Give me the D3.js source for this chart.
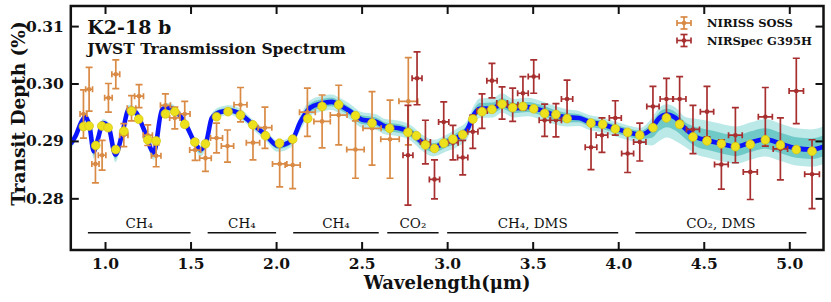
<!DOCTYPE html>
<html>
<head>
<meta charset="utf-8">
<script src="https://cdn.jsdelivr.net/npm/d3@7"></script>
<style>
  body { margin: 0; background: #fff; }
  svg text { font-family: "DejaVu Serif", serif; fill: #111; }
</style>
</head>
<body>
<div id="chart"></div>
<script>
// NIRISS SOSS points (wavelength um, depth %, y err, x half-width)
const nirissW = [0.874, 0.907, 0.944, 0.983, 1.020, 1.063, 1.110, 1.155, 1.199, 1.250, 1.299, 1.353, 1.408, 1.466, 1.527, 1.587, 1.652, 1.716, 1.792, 1.865, 1.935, 2.021, 2.097, 2.183, 2.269, 2.366, 2.464, 2.561, 2.666, 2.773];
const nirissD = [0.2947, 0.2990, 0.2860, 0.2875, 0.2975, 0.3016, 0.2910, 0.2957, 0.2978, 0.2910, 0.2874, 0.2962, 0.2940, 0.2947, 0.2884, 0.2870, 0.2905, 0.2891, 0.2963, 0.2897, 0.2923, 0.2860, 0.2858, 0.2950, 0.2934, 0.2945, 0.2885, 0.2922, 0.2903, 0.2969];
const nirissE = [0.0042, 0.0038, 0.0033, 0.0026, 0.0025, 0.0025, 0.0020, 0.0022, 0.0020, 0.0018, 0.0019, 0.0020, 0.0019, 0.0022, 0.0018, 0.0023, 0.0026, 0.0028, 0.0030, 0.0030, 0.0036, 0.0040, 0.0041, 0.0042, 0.0046, 0.0052, 0.0050, 0.0064, 0.0068, 0.0076];
const nirissXE = [0.020, 0.020, 0.021, 0.022, 0.022, 0.023, 0.024, 0.025, 0.026, 0.027, 0.028, 0.029, 0.030, 0.031, 0.032, 0.034, 0.035, 0.036, 0.038, 0.039, 0.040, 0.042, 0.044, 0.046, 0.048, 0.049, 0.051, 0.053, 0.054, 0.055];

// NIRSpec G395H points
const nirspecW = [2.771, 2.824, 2.873, 2.926, 2.980, 3.034, 3.091, 3.150, 3.204, 3.262, 3.321, 3.383, 3.443, 3.506, 3.570, 3.636, 3.701, 3.841, 3.905, 3.983, 4.055, 4.126, 4.203, 4.282, 4.359, 4.437, 4.519, 4.603, 4.685, 4.772, 4.860, 4.948, 5.041, 5.133];
const nirspecD = [0.2875, 0.3009, 0.2898, 0.2833, 0.2933, 0.2897, 0.2871, 0.2916, 0.2952, 0.3005, 0.2966, 0.2963, 0.2983, 0.3012, 0.2936, 0.2936, 0.2973, 0.2889, 0.2910, 0.2940, 0.2878, 0.2898, 0.2960, 0.2973, 0.2973, 0.2920, 0.2951, 0.2859, 0.2910, 0.2846, 0.2942, 0.2886, 0.2987, 0.2842];
const nirspecE = [0.0087, 0.0046, 0.0038, 0.0034, 0.0035, 0.0030, 0.0030, 0.0029, 0.0030, 0.0030, 0.0028, 0.0029, 0.0029, 0.0029, 0.0028, 0.0029, 0.0033, 0.0039, 0.0030, 0.0030, 0.0033, 0.0033, 0.0035, 0.0036, 0.0039, 0.0042, 0.0044, 0.0043, 0.0048, 0.0048, 0.0051, 0.0054, 0.0057, 0.0060];
const nirspecXE = [0.029, 0.029, 0.029, 0.030, 0.030, 0.030, 0.030, 0.030, 0.030, 0.030, 0.031, 0.031, 0.031, 0.032, 0.032, 0.032, 0.033, 0.034, 0.034, 0.035, 0.035, 0.036, 0.036, 0.037, 0.037, 0.038, 0.039, 0.040, 0.040, 0.041, 0.041, 0.042, 0.042, 0.043];

// high resolution model (blue) and its spread (teal)
const modelW = [0.80, 0.83, 0.86, 0.886, 0.91, 0.934, 0.96, 0.987, 1.02, 1.061, 1.10, 1.139, 1.18, 1.23, 1.285, 1.334, 1.37, 1.41, 1.47, 1.529, 1.558, 1.595, 1.624, 1.67, 1.73, 1.79, 1.86, 1.94, 2.01, 2.09, 2.142, 2.20, 2.26, 2.327, 2.366, 2.425, 2.503, 2.58, 2.639, 2.72, 2.79, 2.853, 2.92, 2.99, 3.06, 3.116, 3.155, 3.19, 3.27, 3.32, 3.39, 3.47, 3.545, 3.62, 3.70, 3.77, 3.83, 3.905, 3.98, 4.06, 4.13, 4.197, 4.24, 4.285, 4.335, 4.39, 4.46, 4.52, 4.60, 4.69, 4.77, 4.86, 4.95, 5.04, 5.13, 5.20];
const modelD = [0.2895, 0.2910, 0.2932, 0.2942, 0.2925, 0.2882, 0.2905, 0.2931, 0.2925, 0.2876, 0.2912, 0.2955, 0.2950, 0.2918, 0.2880, 0.2955, 0.2958, 0.2953, 0.2930, 0.2895, 0.2885, 0.2902, 0.2940, 0.2950, 0.2953, 0.2947, 0.2930, 0.2910, 0.2892, 0.2900, 0.2933, 0.2958, 0.2965, 0.2968, 0.2963, 0.2953, 0.2937, 0.2934, 0.2925, 0.2922, 0.2914, 0.2898, 0.2889, 0.2897, 0.2906, 0.2919, 0.2945, 0.2956, 0.2957, 0.2965, 0.2957, 0.2959, 0.2954, 0.2946, 0.2941, 0.2940, 0.2933, 0.2929, 0.2922, 0.2915, 0.2911, 0.2922, 0.2940, 0.2946, 0.2940, 0.2922, 0.2906, 0.2901, 0.2895, 0.2890, 0.2897, 0.2903, 0.2895, 0.2887, 0.2885, 0.2890];
const spreadUp = [0.0007, 0.0007, 0.0008, 0.0008, 0.0007, 0.0007, 0.0007, 0.0007, 0.0007, 0.0007, 0.0007, 0.0008, 0.0008, 0.0007, 0.0007, 0.0008, 0.0008, 0.0008, 0.0007, 0.0007, 0.0007, 0.0008, 0.0008, 0.0009, 0.0009, 0.0009, 0.0008, 0.0008, 0.0008, 0.0008, 0.0012, 0.0013, 0.0013, 0.0013, 0.0013, 0.0013, 0.0013, 0.0013, 0.0013, 0.0013, 0.0013, 0.0013, 0.0013, 0.0013, 0.0016, 0.0016, 0.0016, 0.0018, 0.0018, 0.0018, 0.0016, 0.0016, 0.0016, 0.0016, 0.0014, 0.0012, 0.0012, 0.0012, 0.0012, 0.0012, 0.0012, 0.0018, 0.0018, 0.0018, 0.0018, 0.0020, 0.0032, 0.0034, 0.0035, 0.0035, 0.0035, 0.0035, 0.0035, 0.0035, 0.0035, 0.0035];
const spreadDown = [0.0010, 0.0009, 0.0008, 0.0008, 0.0009, 0.0013, 0.0009, 0.0008, 0.0009, 0.0013, 0.0009, 0.0008, 0.0008, 0.0009, 0.0013, 0.0008, 0.0008, 0.0008, 0.0009, 0.0010, 0.0012, 0.0009, 0.0008, 0.0008, 0.0008, 0.0009, 0.0009, 0.0010, 0.0011, 0.0010, 0.0014, 0.0014, 0.0014, 0.0014, 0.0014, 0.0014, 0.0014, 0.0014, 0.0014, 0.0014, 0.0014, 0.0015, 0.0016, 0.0016, 0.0016, 0.0016, 0.0016, 0.0016, 0.0016, 0.0016, 0.0016, 0.0016, 0.0016, 0.0016, 0.0016, 0.0014, 0.0014, 0.0014, 0.0014, 0.0014, 0.0014, 0.0030, 0.0040, 0.0040, 0.0040, 0.0032, 0.0030, 0.0030, 0.0030, 0.0030, 0.0030, 0.0030, 0.0030, 0.0030, 0.0030, 0.0030];

// binned model (yellow)
const binW = [0.874, 0.907, 0.946, 0.981, 1.018, 1.063, 1.110, 1.155, 1.197, 1.250, 1.299, 1.353, 1.408, 1.466, 1.525, 1.587, 1.652, 1.719, 1.792, 1.864, 1.938, 2.020, 2.097, 2.185, 2.269, 2.366, 2.464, 2.561, 2.664, 2.771, 2.820, 2.873, 2.926, 2.980, 3.034, 3.091, 3.150, 3.204, 3.262, 3.321, 3.383, 3.443, 3.506, 3.570, 3.636, 3.701, 3.841, 3.909, 3.983, 4.055, 4.126, 4.203, 4.282, 4.359, 4.437, 4.519, 4.603, 4.685, 4.772, 4.860, 4.948, 5.041, 5.133];
const binD = [0.2925, 0.2926, 0.2892, 0.2926, 0.2923, 0.2885, 0.2917, 0.2952, 0.2938, 0.2902, 0.2900, 0.2947, 0.2951, 0.2929, 0.2898, 0.2895, 0.2942, 0.2951, 0.2945, 0.2928, 0.2909, 0.2896, 0.2903, 0.2939, 0.2960, 0.2963, 0.2944, 0.2931, 0.2922, 0.2915, 0.2909, 0.2893, 0.2887, 0.2896, 0.2903, 0.2911, 0.2938, 0.2951, 0.2955, 0.2964, 0.2958, 0.2960, 0.2956, 0.2948, 0.2946, 0.2939, 0.2931, 0.2929, 0.2921, 0.2915, 0.2910, 0.2923, 0.2940, 0.2929, 0.2907, 0.2900, 0.2895, 0.2890, 0.2894, 0.2902, 0.2893, 0.2885, 0.2882];

// molecular feature annotations
const bandStart = [0.9, 1.6, 2.1, 2.65, 3.0, 4.1];
const bandEnd = [1.5, 2.0, 2.6, 2.95, 4.0, 5.1];
const bandLabel = ["CH₄", "CH₄", "CH₄", "CO₂", "CH₄, DMS", "CO₂, DMS"];

const xTicks = [1.0, 1.5, 2.0, 2.5, 3.0, 3.5, 4.0, 4.5, 5.0];
const yTicks = [0.28, 0.29, 0.30, 0.31];

const margin = { top: 6, right: 7.5, bottom: 52, left: 70.8 };
const W = 831, H = 302;
const width = W - margin.left - margin.right;
const height = H - margin.top - margin.bottom;

const colNiriss = "#d98a45";
const colNirspec = "#a82f2f";

const svg = d3.select("#chart").append("svg")
  .attr("width", W).attr("height", H);
const g = svg.append("g")
  .attr("transform", `translate(${margin.left},${margin.top})`);

const x = d3.scaleLinear().domain([0.8, 5.2]).range([0, width]);
const y = d3.scaleLinear().domain([0.271, 0.3135]).range([height, 0]);

g.append("clipPath").attr("id", "clip")
  .append("rect").attr("width", width).attr("height", height);
const plot = g.append("g").attr("clip-path", "url(#clip)");

// model spread
const model = modelW.map((w, i) => ({ w, d: modelD[i], up: spreadUp[i], dn: spreadDown[i] }));
plot.append("path")
  .datum(model)
  .attr("d", d3.area()
    .x((d) => x(d.w))
    .y0((d) => y(d.d - d.dn))
    .y1((d) => y(d.d + d.up))
    .curve(d3.curveMonotoneX))
  .attr("fill", "#66cfcb")
  .attr("opacity", 0.45);
plot.append("path")
  .datum(model)
  .attr("d", d3.area()
    .x((d) => x(d.w))
    .y0((d) => y(d.d - d.dn * 0.55))
    .y1((d) => y(d.d + d.up * 0.55))
    .curve(d3.curveMonotoneX))
  .attr("fill", "#22aaa6")
  .attr("opacity", 0.5);

plot.append("path")
  .datum(model)
  .attr("d", d3.line().x((d) => x(d.w)).y((d) => y(d.d)).curve(d3.curveMonotoneX))
  .attr("fill", "none")
  .attr("stroke", "#0a14ff")
  .attr("stroke-width", 4.6)
  .attr("stroke-linejoin", "round");

// error bars
function errorBars(ws, ds, es, xes, color, cls) {
  const data = ws.map((w, i) => ({ w, d: ds[i], e: es[i], xe: xes[i] }));
  const grp = plot.selectAll("g." + cls).data(data).join("g").attr("class", cls);
  grp.append("line")
    .attr("x1", (d) => x(d.w)).attr("x2", (d) => x(d.w))
    .attr("y1", (d) => y(d.d - d.e)).attr("y2", (d) => y(d.d + d.e));
  grp.append("line")
    .attr("x1", (d) => x(d.w - d.xe)).attr("x2", (d) => x(d.w + d.xe))
    .attr("y1", (d) => y(d.d)).attr("y2", (d) => y(d.d));
  [(d) => d.d - d.e, (d) => d.d + d.e].forEach((f) => {
    grp.append("line")
      .attr("x1", (d) => x(d.w) - 3.5).attr("x2", (d) => x(d.w) + 3.5)
      .attr("y1", (d) => y(f(d))).attr("y2", (d) => y(f(d)));
  });
  [(d) => d.w - d.xe, (d) => d.w + d.xe].forEach((f) => {
    grp.append("line")
      .attr("x1", (d) => x(f(d))).attr("x2", (d) => x(f(d)))
      .attr("y1", (d) => y(d.d) - 3).attr("y2", (d) => y(d.d) + 3);
  });
  grp.selectAll("line").attr("stroke", color).attr("stroke-width", 1.7);
  grp.append("circle")
    .attr("cx", (d) => x(d.w)).attr("cy", (d) => y(d.d))
    .attr("r", 2.3).attr("fill", color);
}
errorBars(nirissW, nirissD, nirissE, nirissXE, colNiriss, "niriss");
errorBars(nirspecW, nirspecD, nirspecE, nirspecXE, colNirspec, "nirspec");

// binned model
plot.selectAll("circle.bin")
  .data(binW.map((w, i) => ({ w, d: binD[i] })))
  .join("circle")
  .attr("class", "bin")
  .attr("cx", (d) => x(d.w))
  .attr("cy", (d) => y(d.d))
  .attr("r", 4.4)
  .attr("fill", "#ece11c")
  .attr("stroke", "#d2c414")
  .attr("stroke-width", 0.7);

// feature bands
const bands = bandStart.map((s, i) => ({ s, e: bandEnd[i], label: bandLabel[i] }));
g.selectAll("line.band").data(bands).join("line")
  .attr("class", "band")
  .attr("x1", (d) => x(d.s)).attr("x2", (d) => x(d.e))
  .attr("y1", 226.7).attr("y2", 226.7)
  .attr("stroke", "#111").attr("stroke-width", 1.5);
g.selectAll("text.band").data(bands).join("text")
  .attr("class", "band")
  .attr("x", (d) => x((d.s + d.e) / 2))
  .attr("y", 222.3)
  .attr("text-anchor", "middle")
  .style("font-size", "13.5px")
  .text((d) => d.label);

// axes with inward ticks on all sides
const axisStyle = (sel) => {
  sel.select(".domain").remove();
  sel.selectAll(".tick line").attr("stroke", "#111").attr("stroke-width", 2);
  sel.selectAll(".tick text").style("font-size", "15.5px").style("font-weight", "bold").attr("fill", "#111");
};
g.append("g").attr("transform", `translate(0,${height})`)
  .call(d3.axisBottom(x).tickValues(xTicks).tickFormat(d3.format(".1f")).tickSizeInner(-8).tickSizeOuter(0).tickPadding(7.5))
  .call(axisStyle);
g.append("g")
  .call(d3.axisTop(x).tickValues(xTicks).tickFormat("").tickSizeInner(-8).tickSizeOuter(0))
  .call(axisStyle);
g.append("g")
  .call(d3.axisLeft(y).tickValues(yTicks).tickFormat(d3.format(".2f")).tickSizeInner(-8).tickSizeOuter(0).tickPadding(7))
  .call(axisStyle);
g.append("g").attr("transform", `translate(${width},0)`)
  .call(d3.axisRight(y).tickValues(yTicks).tickFormat("").tickSizeInner(-8).tickSizeOuter(0))
  .call(axisStyle);

g.append("rect")
  .attr("width", width).attr("height", height)
  .attr("fill", "none").attr("stroke", "#111").attr("stroke-width", 2.5);

// titles
g.append("text").attr("x", 16.5).attr("y", 28)
  .style("font-size", "19px").style("font-weight", "bold").text("K2-18 b");
g.append("text").attr("x", 16.5).attr("y", 47.5)
  .style("font-size", "15.5px").style("font-weight", "bold").text("JWST Transmission Spectrum");

svg.append("text")
  .attr("transform", `translate(25,${113.5}) rotate(-90)`)
  .attr("text-anchor", "middle")
  .style("font-size", "18.5px").style("font-weight", "bold")
  .text("Transit Depth (%)");
svg.append("text")
  .attr("x", margin.left + width / 2).attr("y", 289)
  .attr("text-anchor", "middle")
  .style("font-size", "18px").style("font-weight", "bold")
  .text("Wavelength(μm)");

// legend
const legendItems = [
  { label: "NIRISS SOSS", color: colNiriss },
  { label: "NIRSpec G395H", color: colNirspec },
];
const legend = svg.append("g").attr("transform", "translate(684,23)");
const li = legend.selectAll("g").data(legendItems).join("g")
  .attr("transform", (d, i) => `translate(0,${i * 17.5})`);
li.append("line").attr("x1", -7).attr("x2", 7).attr("y1", 0).attr("y2", 0);
li.append("line").attr("x1", 0).attr("x2", 0).attr("y1", -6).attr("y2", 6);
li.append("line").attr("x1", -3.5).attr("x2", 3.5).attr("y1", -6).attr("y2", -6);
li.append("line").attr("x1", -3.5).attr("x2", 3.5).attr("y1", 6).attr("y2", 6);
li.append("line").attr("x1", -7).attr("x2", -7).attr("y1", -3).attr("y2", 3);
li.append("line").attr("x1", 7).attr("x2", 7).attr("y1", -3).attr("y2", 3);
li.selectAll("line").attr("stroke", (d) => d.color).attr("stroke-width", 1.7);
li.append("circle").attr("r", 2.3).attr("fill", (d) => d.color);
li.append("text").attr("x", 23).attr("dy", "0.35em")
  .style("font-size", "11.5px").style("font-weight", "bold")
  .text((d) => d.label);
</script>
</body>
</html>
